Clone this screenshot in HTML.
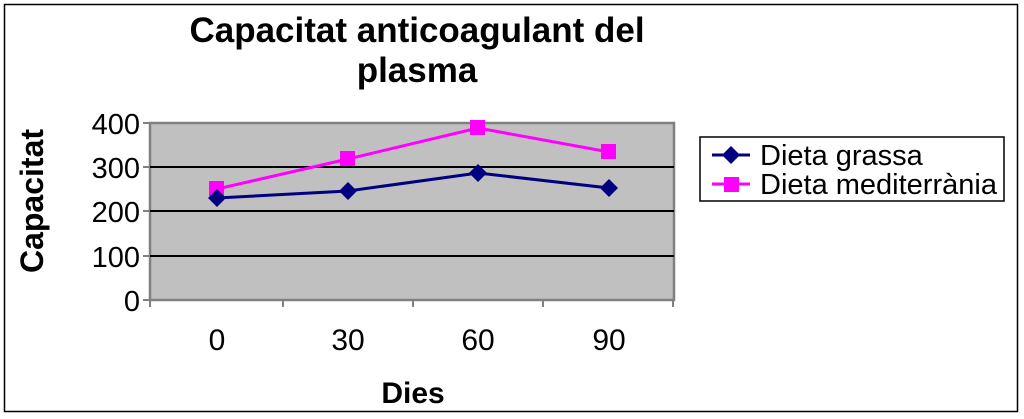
<!DOCTYPE html>
<html><head><meta charset="utf-8"><style>
body{margin:0;background:#fff;}
svg{display:block;font-family:"Liberation Sans",Arial,sans-serif;}
</style></head><body>
<svg width="1024" height="419" viewBox="0 0 1024 419" xmlns="http://www.w3.org/2000/svg">
<rect x="0" y="0" width="1024" height="419" fill="#fff"/>
<rect x="4.5" y="4.5" width="1013" height="407" fill="#fff" stroke="#000" stroke-width="1.5"/>
<text x="417" y="42" font-size="35" font-weight="bold" text-anchor="middle">Capacitat anticoagulant del</text>
<text x="417" y="82" font-size="35" font-weight="bold" text-anchor="middle">plasma</text>
<rect x="150" y="123" width="524" height="177" fill="#c0c0c0" stroke="#808080" stroke-width="2.5"/>
<g stroke="#000" stroke-width="2">
<line x1="150" y1="167" x2="674" y2="167"/>
<line x1="150" y1="211" x2="674" y2="211"/>
<line x1="150" y1="256" x2="674" y2="256"/>
</g>
<g stroke="#808080" stroke-width="2">
<line x1="143" y1="123" x2="150" y2="123"/>
<line x1="143" y1="167" x2="150" y2="167"/>
<line x1="143" y1="211" x2="150" y2="211"/>
<line x1="143" y1="256" x2="150" y2="256"/>
<line x1="143" y1="300" x2="150" y2="300"/>
<line x1="150" y1="300" x2="150" y2="307"/>
<line x1="283" y1="300" x2="283" y2="307"/>
<line x1="413" y1="300" x2="413" y2="307"/>
<line x1="543" y1="300" x2="543" y2="307"/>
<line x1="673" y1="300" x2="673" y2="307"/>
</g>
<g font-size="29" text-anchor="end">
<text x="140" y="134">400</text>
<text x="140" y="178">300</text>
<text x="140" y="222">200</text>
<text x="140" y="267">100</text>
<text x="140" y="311">0</text>
</g>
<g font-size="30" text-anchor="middle">
<text x="217" y="350">0</text>
<text x="348" y="350">30</text>
<text x="478" y="350">60</text>
<text x="609" y="350">90</text>
</g>
<text x="413" y="403" font-size="30" font-weight="bold" text-anchor="middle">Dies</text>
<text transform="translate(43,201) rotate(-90)" font-size="32" font-weight="bold" text-anchor="middle">Capacitat</text>
<polyline points="217,189 348,159 478,128 609,152" fill="none" stroke="#ff00ff" stroke-width="3"/>
<g fill="#ff00ff">
<rect x="209" y="181" width="15" height="15"/>
<rect x="340" y="151" width="15" height="15"/>
<rect x="470" y="120" width="15" height="15"/>
<rect x="601" y="144" width="15" height="15"/>
</g>
<polyline points="217,198 348,191 478,173 609,188" fill="none" stroke="#000080" stroke-width="3"/>
<g fill="#000080">
<polygon points="217,189 226,198 217,207 208,198"/>
<polygon points="348,182 357,191 348,200 339,191"/>
<polygon points="478,164 487,173 478,182 469,173"/>
<polygon points="609,179 618,188 609,197 600,188"/>
</g>
<rect x="700" y="137" width="304" height="64" fill="#fff" stroke="#000" stroke-width="1.5"/>
<line x1="712" y1="155" x2="750" y2="155" stroke="#000080" stroke-width="3"/>
<polygon points="731,146 740,155 731,164 722,155" fill="#000080"/>
<text x="760" y="165" font-size="29">Dieta grassa</text>
<line x1="712" y1="184" x2="750" y2="184" stroke="#ff00ff" stroke-width="3"/>
<rect x="724" y="177" width="15" height="15" fill="#ff00ff"/>
<text x="760" y="194" font-size="29">Dieta mediterrània</text>
</svg>
</body></html>
